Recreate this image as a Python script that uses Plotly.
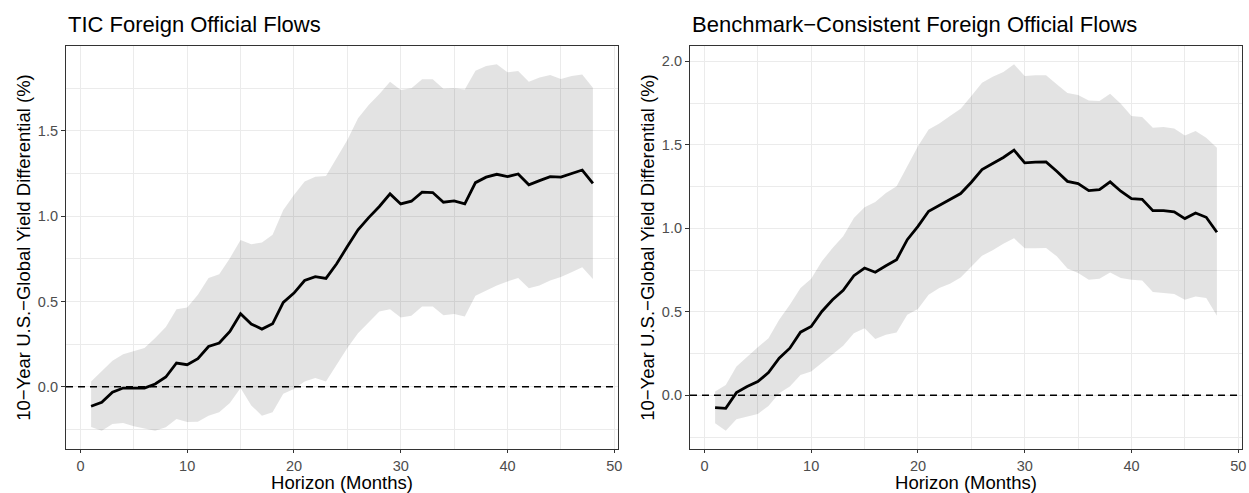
import plotly.graph_objects as go
from plotly.subplots import make_subplots

horizon = [1, 2, 3, 4, 5, 6, 7, 8, 9, 10, 11, 12, 13, 14, 15, 16, 17, 18, 19, 20, 21, 22, 23, 24,
           25, 26, 27, 28, 29, 30, 31, 32, 33, 34, 35, 36, 37, 38, 39, 40, 41, 42, 43, 44, 45, 46, 47, 48]

tic_mid = [-0.115, -0.092, -0.033, -0.008, -0.008, -0.008, 0.016, 0.057, 0.139, 0.129, 0.164, 0.236,
           0.256, 0.324, 0.428, 0.368, 0.338, 0.369, 0.494, 0.549, 0.623, 0.646, 0.635, 0.721,
           0.822, 0.920, 0.992, 1.057, 1.131, 1.072, 1.088, 1.141, 1.139, 1.082, 1.090, 1.072,
           1.197, 1.229, 1.246, 1.232, 1.248, 1.184, 1.209, 1.232, 1.229, 1.252, 1.271, 1.193]
tic_hi = [0.031, 0.094, 0.152, 0.191, 0.211, 0.227, 0.285, 0.350, 0.455, 0.465, 0.539, 0.637,
          0.660, 0.754, 0.861, 0.835, 0.846, 0.891, 1.037, 1.125, 1.203, 1.232, 1.236, 1.340,
          1.447, 1.574, 1.652, 1.717, 1.789, 1.740, 1.750, 1.803, 1.803, 1.747, 1.750, 1.744,
          1.853, 1.881, 1.891, 1.844, 1.852, 1.789, 1.814, 1.828, 1.805, 1.822, 1.832, 1.754]
tic_lo = [-0.236, -0.258, -0.219, -0.213, -0.232, -0.246, -0.258, -0.238, -0.189, -0.207, -0.205, -0.170,
          -0.150, -0.096, -0.008, -0.110, -0.170, -0.150, -0.041, -0.014, 0.031, 0.051, 0.031, 0.129,
          0.227, 0.314, 0.377, 0.441, 0.455, 0.406, 0.416, 0.471, 0.471, 0.419, 0.426, 0.412,
          0.533, 0.564, 0.594, 0.617, 0.637, 0.578, 0.594, 0.623, 0.643, 0.672, 0.701, 0.631]

bench_mid = [-0.074, -0.078, 0.016, 0.052, 0.082, 0.136, 0.222, 0.282, 0.378, 0.412, 0.502, 0.572,
             0.628, 0.716, 0.762, 0.737, 0.776, 0.812, 0.932, 1.012, 1.102, 1.138, 1.172, 1.208,
             1.276, 1.352, 1.388, 1.424, 1.468, 1.392, 1.396, 1.398, 1.342, 1.281, 1.268, 1.226,
             1.232, 1.278, 1.222, 1.178, 1.174, 1.106, 1.106, 1.098, 1.058, 1.092, 1.066, 0.976]
bench_hi = [0.022, 0.062, 0.172, 0.232, 0.288, 0.342, 0.452, 0.542, 0.642, 0.698, 0.802, 0.882,
            0.952, 1.062, 1.126, 1.157, 1.212, 1.252, 1.372, 1.492, 1.592, 1.628, 1.672, 1.716,
            1.792, 1.872, 1.908, 1.936, 1.982, 1.912, 1.916, 1.916, 1.862, 1.810, 1.798, 1.766,
            1.762, 1.806, 1.746, 1.672, 1.666, 1.602, 1.606, 1.598, 1.556, 1.582, 1.542, 1.482]
bench_lo = [-0.168, -0.212, -0.144, -0.128, -0.112, -0.064, 0.012, 0.052, 0.122, 0.142, 0.192, 0.246,
            0.296, 0.372, 0.402, 0.337, 0.362, 0.376, 0.482, 0.516, 0.602, 0.642, 0.668, 0.706,
            0.772, 0.836, 0.868, 0.908, 0.940, 0.880, 0.880, 0.882, 0.832, 0.759, 0.732, 0.692,
            0.698, 0.736, 0.702, 0.692, 0.688, 0.618, 0.612, 0.606, 0.572, 0.592, 0.582, 0.476]

titles = ["TIC Foreign Official Flows", "Benchmark\u2212Consistent Foreign Official Flows"]
x_title = "Horizon (Months)"
y_title = "10\u2212Year U.S.\u2212Global Yield Differential (%)"

W, H = 1249, 493
FONT = "Liberation Sans, Arial, sans-serif"
TICK_COLOR = "#4D4D4D"
GRID = "#EBEBEB"
BORDER = "#333333"


def expand(lo, hi, frac=0.05):
    r = hi - lo
    return [lo - frac * r, hi + frac * r]


fig = make_subplots(rows=1, cols=2)

panels = [(tic_lo, tic_mid, tic_hi), (bench_lo, bench_mid, bench_hi)]
x_domains = [[66 / W, 618 / W], [690 / W, 1242 / W]]
y_domain = [1 - 449 / H, 1 - 46 / H]

for i, (lo, mid, hi) in enumerate(panels):
    col = i + 1
    fig.add_trace(go.Scatter(x=horizon, y=lo, mode="lines", line=dict(width=0),
                             showlegend=False, hoverinfo="skip"), row=1, col=col)
    fig.add_trace(go.Scatter(x=horizon, y=hi, mode="lines", line=dict(width=0),
                             fill="tonexty", fillcolor="rgba(0,0,0,0.11)",
                             showlegend=False, hoverinfo="skip"), row=1, col=col)
    fig.add_trace(go.Scatter(x=horizon, y=mid, mode="lines",
                             line=dict(color="black", width=2.8),
                             showlegend=False), row=1, col=col)
    fig.add_hline(y=0, line=dict(color="black", width=1.4, dash="7px,5px"), row=1, col=col)

    xr = expand(min(horizon), max(horizon))
    yr = expand(min(lo), max(hi))
    axis_common = dict(
        showgrid=True, gridcolor=GRID, gridwidth=1.4,
        minor=dict(showgrid=True, gridcolor=GRID, gridwidth=0.7),
        showline=True, mirror=True, linecolor=BORDER, linewidth=1.2,
        ticks="outside", tickcolor=BORDER, tickwidth=1,
        tickfont=dict(family=FONT, size=14.5, color=TICK_COLOR),
        zeroline=False, automargin=False,
    )
    fig.update_xaxes(range=xr, domain=x_domains[i], dtick=10, tick0=0,
                     minor_dtick=5, **axis_common, ticklen=3, ticklabelstandoff=0,
                     title=dict(text=x_title, font=dict(family=FONT, size=18.5, color="black"),
                                standoff=13),
                     row=1, col=col)
    fig.update_yaxes(range=yr, domain=y_domain, dtick=0.5, tick0=0, tickformat=".1f",
                     minor_dtick=0.25, **axis_common, ticklen=4,
                     title=dict(text=y_title, font=dict(family=FONT, size=18.5, color="black"),
                                standoff=2),
                     row=1, col=col)
    fig.add_annotation(text=titles[i], xref="paper", yref="paper",
                       x=x_domains[i][0], y=1 - 25 / H, xanchor="left", yanchor="middle",
                       showarrow=False, font=dict(family=FONT, size=22, color="black"))

fig.update_layout(
    width=W, height=H,
    margin=dict(l=0, r=0, t=0, b=0),
    plot_bgcolor="white", paper_bgcolor="white",
    font=dict(family=FONT),
)

fig.write_html("out.html")
